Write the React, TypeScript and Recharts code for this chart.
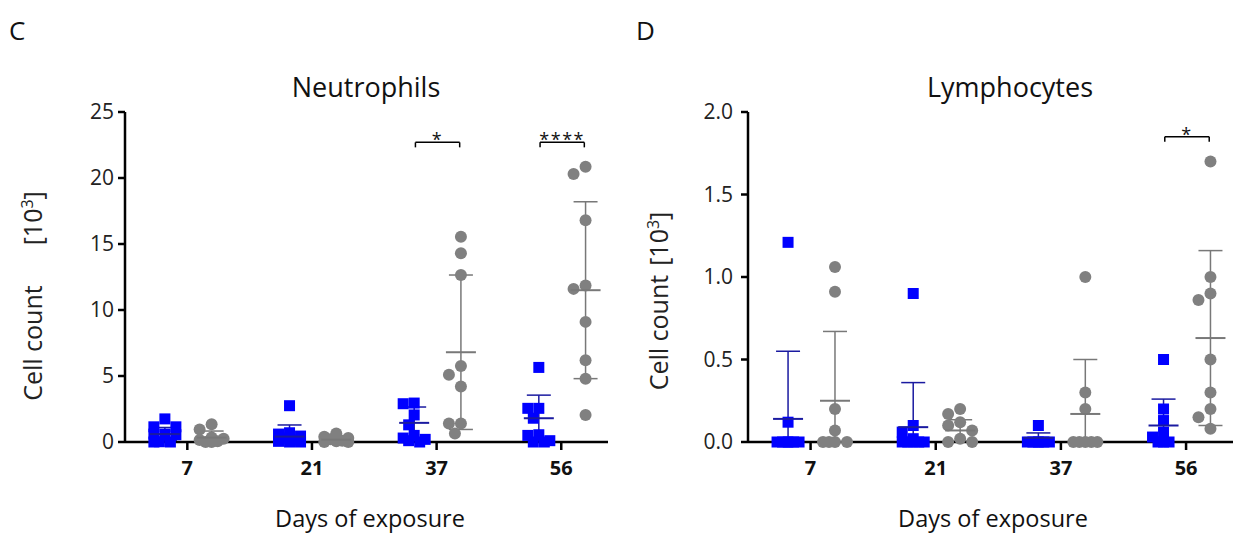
import React from "react";
import { ScatterChart, Scatter, XAxis, YAxis, ErrorBar, ReferenceLine, Label } from "recharts";

const FONT = "'Open Sans', 'Noto Sans', sans-serif";
const BLUE = "#0000ff";
const BLUE_BAR = "#1a1aa0";
const GREY = "#808080";
const GREY_BAR = "#787878";

const days = ["7", "21", "37", "56"];

// Neutrophils, cell count [10^3] per animal, one row per day
const neutroControl = [
  [1.75, 1.15, 1.15, 0.6, 0.6, 0.55, 0.02, 0, 0],
  [2.75, 0.7, 0.6, 0.45, 0.3, 0.15, 0.05, 0, 0],
  [2.95, 2.9, 2.05, 1.3, 0.5, 0.3, 0.2, 0.1, 0],
  [5.65, 2.55, 2.55, 1.8, 0.55, 0.5, 0.1, 0, 0],
];
const neutroExposed = [
  [1.35, 0.95, 0.35, 0.25, 0.15, 0.05, 0, 0],
  [0.65, 0.4, 0.3, 0.2, 0.1, 0.05, 0, 0],
  [15.55, 14.3, 12.65, 5.75, 5.1, 4.2, 1.4, 1.4, 0.65],
  [20.85, 20.3, 16.8, 11.85, 11.6, 9.1, 6.2, 4.8, 2.05],
];
const neutroControlMean = [0.6, 0.41, 1.45, 1.8];
const neutroControlSd = [0.5, 0.88, 1.2, 1.75];
const neutroExposedMean = [0.33, 0.18, 6.8, 11.5];
const neutroExposedSd = [0.5, 0.18, 5.85, 6.7];
const neutroTicks = [0, 5, 10, 15, 20, 25];
const neutroSig = [
  { day: 2, text: "*" },
  { day: 3, text: "****" },
];

// Lymphocytes, cell count [10^3] per animal
const lymphControl = [
  [1.21, 0.12, 0, 0, 0, 0, 0, 0],
  [0.9, 0.1, 0.06, 0.02, 0, 0, 0, 0, 0],
  [0.1, 0, 0, 0, 0, 0, 0],
  [0.5, 0.2, 0.13, 0.06, 0.03, 0, 0, 0],
];
const lymphExposed = [
  [1.06, 0.91, 0.2, 0.07, 0, 0, 0, 0],
  [0.2, 0.17, 0.12, 0.1, 0.07, 0.02, 0, 0],
  [1.0, 0.3, 0.2, 0, 0, 0, 0, 0],
  [1.7, 1.0, 0.9, 0.86, 0.5, 0.3, 0.2, 0.15, 0.08],
];
const lymphControlMean = [0.14, 0.09, 0.025, 0.1];
const lymphControlSd = [0.41, 0.27, 0.03, 0.16];
const lymphExposedMean = [0.25, 0.07, 0.17, 0.63];
const lymphExposedSd = [0.42, 0.065, 0.33, 0.53];
const lymphTicks = [0, 0.5, 1, 1.5, 2];
const lymphSig = [{ day: 3, text: "*" }];

const X_DOMAIN: [number, number] = [-0.5, 3.375];
const CHART_H = 535;
const PLOT_TOP = 112;
const PLOT_H = 330;
const CONTROL_OFF = -0.18;
const EXPOSED_OFF = 0.195;

// simple beeswarm: spread points sideways (in px) so they don't pile up
function swarm(values: number[], pxPerY: number, diam: number) {
  const step = diam / 2;
  const order = values.map((_, i) => i).sort((a, b) => values[b] - values[a]);
  const placed: { dx: number; py: number }[] = [];
  const out = new Array(values.length).fill(0);
  for (const i of order) {
    const py = values[i] * pxPerY;
    let best = 0;
    let bestGap = -1;
    for (const k of [0, -1, 1, -2, 2]) {
      const dx = k * step;
      const gap = placed.reduce((m, p) => Math.min(m, Math.hypot(p.dx - dx, p.py - py)), Infinity);
      if (gap >= diam * 0.95) {
        best = dx;
        break;
      }
      if (gap > bestGap) {
        best = dx;
        bestGap = gap;
      }
    }
    placed.push({ dx: best, py });
    out[i] = best;
  }
  return out;
}

const Square = (p: any) => <rect x={p.cx - 5.5} y={p.cy - 5.5} width={11} height={11} fill={BLUE} />;
const Dot = (p: any) => <circle cx={p.cx} cy={p.cy} r={6} fill={GREY} />;
const meanLine = (color: string) => (p: any) =>
  <line x1={p.cx - 15} x2={p.cx + 15} y1={p.cy} y2={p.cy} stroke={color} strokeWidth={2} />;

interface PanelProps {
  width: number
  axisWidth: number
  plotWidth: number
  yMax: number
  yTicks: number[]
  yFormat: (v: number) => string
  tickGap: number
  control: number[][]
  exposed: number[][]
  controlMean: number[]
  controlSd: number[]
  exposedMean: number[]
  exposedSd: number[]
  sig: { day: number; text: string }[]
  sigY: number
  labelX: number
  labelY: number
  labelGap: number
}

function Panel(props: PanelProps) {
  const { width, axisWidth, plotWidth, yMax } = props;
  const pxPerX = plotWidth / (X_DOMAIN[1] - X_DOMAIN[0]);
  const pxPerY = PLOT_H / yMax;
  const drop = 5 / pxPerY;

  const points = (groups: number[][], off: number, diam: number) =>
    groups.flatMap((vals, c) => {
      const dx = swarm(vals, pxPerY, diam);
      return vals.map((v, i) => ({ x: c + off + dx[i] / pxPerX, y: v }));
    });

  const summary = (mean: number[], sd: number[], off: number) =>
    mean.map((m, c) => ({ x: c + off, y: m, err: [Math.min(sd[c], m), sd[c]] }));

  const axisStroke = { stroke: "#000", strokeWidth: 2.5 };

  return (
    <ScatterChart
      width={width}
      height={CHART_H}
      margin={{ top: PLOT_TOP, right: width - axisWidth - plotWidth, bottom: 0, left: 0 }}
    >
      <XAxis
        type="number"
        dataKey="x"
        domain={X_DOMAIN}
        ticks={[0, 1, 2, 3]}
        interval={0}
        tickFormatter={(v: number) => days[v]}
        height={CHART_H - PLOT_TOP - PLOT_H}
        axisLine={axisStroke}
        tickLine={axisStroke}
        tickSize={8}
        tickMargin={11}
        tick={{ fill: "#111", fontSize: 20, fontWeight: 700, fontFamily: FONT }}
      />
      <YAxis
        type="number"
        dataKey="y"
        domain={[0, yMax]}
        ticks={props.yTicks}
        interval={0}
        tickFormatter={props.yFormat}
        width={axisWidth}
        axisLine={axisStroke}
        tickLine={axisStroke}
        tickSize={7}
        tickMargin={props.tickGap}
        tick={{ fill: "#222", fontSize: 21, fontFamily: FONT }}
      >
        <Label
          content={() => (
            <text
              transform={`translate(${props.labelX},${props.labelY}) rotate(-90)`}
              textAnchor="middle"
              fontSize={25}
              fontFamily={FONT}
              fill="#222"
            >
              Cell count
              <tspan dx={props.labelGap}>[10</tspan>
              <tspan dy={-9} fontSize={16}>3</tspan>
              <tspan dy={9}>]</tspan>
            </text>
          )}
        />
      </YAxis>

      {props.sig.map((s) => {
        const x1 = s.day - 0.17;
        const x2 = s.day + 0.185;
        return (
          <React.Fragment key={s.day}>
            <ReferenceLine
              segment={[{ x: x1, y: props.sigY }, { x: x2, y: props.sigY }]}
              stroke="#000"
              strokeWidth={1.5}
              label={{
                content: ({ viewBox }: any) => (
                  <text
                    x={viewBox.x + viewBox.width / 2}
                    y={viewBox.y + 4}
                    textAnchor="middle"
                    fontSize={18}
                    letterSpacing={1.5}
                    fontFamily={FONT}
                    fill="#111"
                  >
                    {s.text}
                  </text>
                ),
              }}
            />
            <ReferenceLine segment={[{ x: x1, y: props.sigY }, { x: x1, y: props.sigY - drop }]} stroke="#000" strokeWidth={1.5} />
            <ReferenceLine segment={[{ x: x2, y: props.sigY }, { x: x2, y: props.sigY - drop }]} stroke="#000" strokeWidth={1.5} />
          </React.Fragment>
        );
      })}

      <Scatter data={points(props.control, CONTROL_OFF, 11)} shape={Square} isAnimationActive={false} />
      <Scatter data={points(props.exposed, EXPOSED_OFF, 12)} shape={Dot} isAnimationActive={false} />

      <Scatter
        data={summary(props.controlMean, props.controlSd, CONTROL_OFF)}
        shape={meanLine(BLUE_BAR)}
        isAnimationActive={false}
      >
        <ErrorBar dataKey="err" direction="y" width={12} stroke={BLUE_BAR} strokeWidth={1.5} />
      </Scatter>
      <Scatter
        data={summary(props.exposedMean, props.exposedSd, EXPOSED_OFF)}
        shape={meanLine(GREY_BAR)}
        isAnimationActive={false}
      >
        <ErrorBar dataKey="err" direction="y" width={12} stroke={GREY_BAR} strokeWidth={1.5} />
      </Scatter>
    </ScatterChart>
  );
}

export default function App() {
  const text = { fontFamily: FONT, fill: "#111" };
  return (
    <div style={{ position: "absolute", left: 0, top: 0, width: 1233, height: 535, background: "#fff" }}>
      <div style={{ position: "absolute", left: 0, top: 0 }}>
        <Panel
          width={620}
          axisWidth={125}
          plotWidth={483}
          yMax={25}
          yTicks={neutroTicks}
          yFormat={(v) => String(v)}
          tickGap={4}
          control={neutroControl}
          exposed={neutroExposed}
          controlMean={neutroControlMean}
          controlSd={neutroControlSd}
          exposedMean={neutroExposedMean}
          exposedSd={neutroExposedSd}
          sig={neutroSig}
          sigY={22.7}
          labelX={41.5}
          labelY={296}
          labelGap={40}
        />
      </div>
      <div style={{ position: "absolute", left: 620, top: 0 }}>
        <Panel
          width={613}
          axisWidth={128}
          plotWidth={485}
          yMax={2}
          yTicks={lymphTicks}
          yFormat={(v) => v.toFixed(1)}
          tickGap={8}
          control={lymphControl}
          exposed={lymphExposed}
          controlMean={lymphControlMean}
          controlSd={lymphControlSd}
          exposedMean={lymphExposedMean}
          exposedSd={lymphExposedSd}
          sig={lymphSig}
          sigY={1.85}
          labelX={48}
          labelY={301}
          labelGap={9}
        />
      </div>
      <svg width={1233} height={535} style={{ position: "absolute", left: 0, top: 0, pointerEvents: "none" }}>
        <text x={9} y={40} fontSize={26} {...text}>C</text>
        <text x={636} y={40} fontSize={26} {...text}>D</text>
        <text x={366} y={97} fontSize={27} textAnchor="middle" {...text}>Neutrophils</text>
        <text x={1010} y={97} fontSize={27} textAnchor="middle" {...text}>Lymphocytes</text>
        <text x={370} y={527} fontSize={23.5} textAnchor="middle" {...text}>Days of exposure</text>
        <text x={993} y={527} fontSize={23.5} textAnchor="middle" {...text}>Days of exposure</text>
      </svg>
    </div>
  );
}
